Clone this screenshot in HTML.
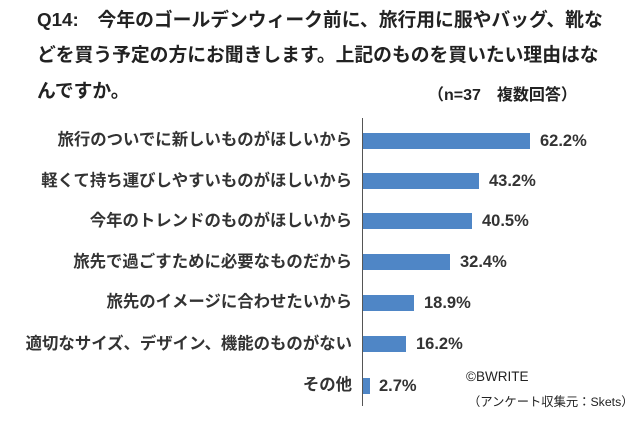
<!DOCTYPE html><html><head><meta charset="utf-8"><style>
body{margin:0;width:640px;height:422px;background:#fff;position:relative;overflow:hidden;font-family:"Liberation Sans","Noto Sans CJK JP",sans-serif;color:#222}
.t{position:absolute;left:37px;font-size:18.8px;font-weight:bold;white-space:nowrap;line-height:22px}
.l{position:absolute;right:288px;font-size:16.4px;font-weight:bold;white-space:nowrap;line-height:18px;color:#333}
.b{position:absolute;left:363px;height:16px;background:#4f86c6}
.v{position:absolute;font-size:16.5px;font-weight:bold;line-height:16px;color:#333}
</style></head><body>
<div class="t" style="top:9px">Q14:　今年のゴールデンウィーク前に、旅行用に服やバッグ、靴な</div>
<div class="t" style="top:44px">どを買う予定の方にお聞きします。上記のものを買いたい理由はな</div>
<div class="t" style="top:80px">んですか。</div>
<div style="position:absolute;left:428px;top:81px;font-size:16px;font-weight:bold;white-space:nowrap">（n=37　複数回答）</div>
<div style="position:absolute;left:362px;top:118px;width:1px;height:288px;background:#555"></div>
<div class="l" style="top:131px">旅行のついでに新しいものがほしいから</div><div class="b" style="top:133px;width:167px"></div><div class="v" style="left:540px;top:133px">62.2%</div>
<div class="l" style="top:172px">軽くて持ち運びしやすいものがほしいから</div><div class="b" style="top:173px;width:116px"></div><div class="v" style="left:489px;top:173px">43.2%</div>
<div class="l" style="top:212px">今年のトレンドのものがほしいから</div><div class="b" style="top:213px;width:109px"></div><div class="v" style="left:482px;top:213px">40.5%</div>
<div class="l" style="top:253px">旅先で過ごすために必要なものだから</div><div class="b" style="top:254px;width:87px"></div><div class="v" style="left:460px;top:254px">32.4%</div>
<div class="l" style="top:293px">旅先のイメージに合わせたいから</div><div class="b" style="top:295px;width:51px"></div><div class="v" style="left:424px;top:295px">18.9%</div>
<div class="l" style="top:335px">適切なサイズ、デザイン、機能のものがない</div><div class="b" style="top:336px;width:43px"></div><div class="v" style="left:416px;top:336px">16.2%</div>
<div class="l" style="top:376px">その他</div><div class="b" style="top:378px;width:7px"></div><div class="v" style="left:379px;top:378px">2.7%</div>
<div style="position:absolute;left:466px;top:369px;font-size:13.5px">©BWRITE</div>
<div style="position:absolute;left:468px;top:392px;font-size:12.3px;white-space:nowrap">（アンケート収集元：Skets）</div>
</body></html>
